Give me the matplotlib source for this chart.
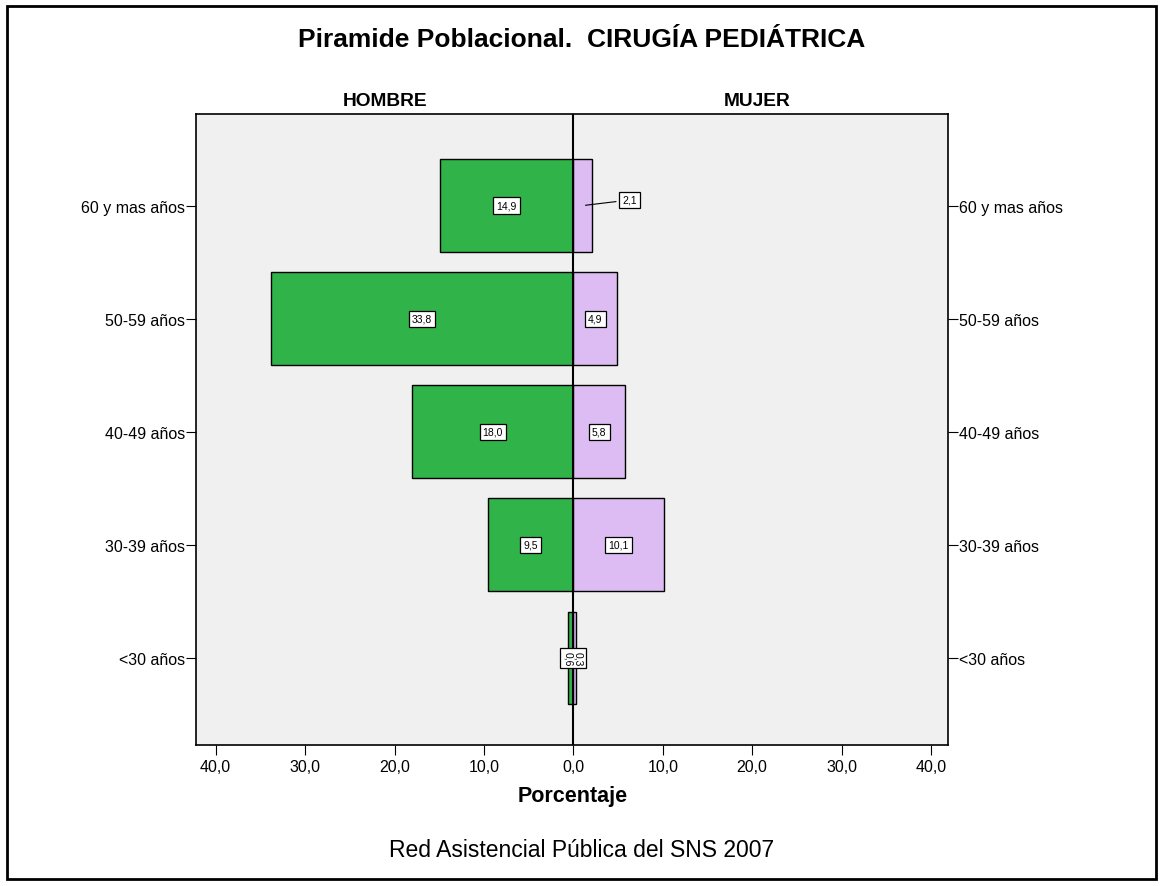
import numpy as np
import matplotlib.pyplot as plt
from matplotlib.patches import Rectangle

plt.rcParams['font.family'] = ['Liberation Sans', 'DejaVu Sans']

# ---- data: percent of each age group by sex ----
GROUPS = ["<30 años", "30-39 años", "40-49 años", "50-59 años", "60 y mas años"]
HOMBRE = [0.6, 9.5, 18.0, 33.8, 14.9]
MUJER = [0.3, 10.1, 5.8, 4.9, 2.1]
XTICKS = [-40, -30, -20, -10, 0, 10, 20, 30, 40]

GREEN = "#30b348"
LILAC = "#dcbcf2"
BG = "#f0f0f0"


def fmt(v):
    return f"{abs(v):.1f}".replace(".", ",")


fig = plt.figure(figsize=(11.63, 8.87), dpi=100)
fig.patches.append(Rectangle((7 / 1163, 1 - 880 / 887), 1149 / 1163, 873 / 887,
                             transform=fig.transFigure, fill=False,
                             edgecolor="black", linewidth=2))

ax = fig.add_axes([196 / 1163, 1 - 746 / 887, 752 / 1163, 631 / 887])
ax.set_facecolor(BG)
y = np.arange(len(GROUPS))
h = 0.82
ax.barh(y, [-v for v in HOMBRE], height=h, color=GREEN, edgecolor="black", linewidth=1)
ax.barh(y, MUJER, height=h, color=LILAC, edgecolor="black", linewidth=1)
ax.axvline(0, color="black", linewidth=1.5)

box = dict(boxstyle="square,pad=0.3", facecolor="white", edgecolor="black", linewidth=0.9)
for i, (m, f) in enumerate(zip(HOMBRE, MUJER)):
    if m < 2:
        # tiny bars get rotated labels stacked on the centre line
        ax.text(0, i, fmt(f) + "\n" + fmt(m), rotation=-90, ha="center", va="center",
                fontsize=7.5, bbox=box, linespacing=1.0)
        continue
    ax.text(-m / 2, i, fmt(m), ha="center", va="center", fontsize=7.5, bbox=box)
    if f < 3:
        ax.annotate(fmt(f), xy=(f / 2, i), xytext=(6.3, i + 0.05), ha="center", va="center",
                    fontsize=7.5, bbox=box,
                    arrowprops=dict(arrowstyle="-", color="black", linewidth=0.8))
    else:
        ax.text(f / 2, i, fmt(f), ha="center", va="center", fontsize=7.5, bbox=box)

ax.set_xlim(-42.2, 41.9)
ax.set_ylim(-0.77, 4.81)
ax.set_xticks(XTICKS)
ax.set_xticklabels([fmt(v) for v in XTICKS], fontsize=11.5)
ax.set_yticks(y)
ax.set_yticklabels(GROUPS, fontsize=11.5)
ax.tick_params(axis="y", which="both", left=True, right=True, labelleft=True,
               labelright=True, length=7, pad=1)
ax.tick_params(axis="x", length=7, pad=3)
for s in ax.spines.values():
    s.set_linewidth(1.2)

fig.text(573 / 1163, 1 - 797 / 887, "Porcentaje", ha="center", va="center",
         fontsize=15.5, fontweight="bold")
fig.text(582 / 1163, 1 - 40 / 887, "Piramide Poblacional.  CIRUGÍA PEDIÁTRICA",
         ha="center", va="center", fontsize=19, fontweight="bold")
fig.text(385 / 1163, 1 - 102 / 887, "HOMBRE", ha="center", va="center",
         fontsize=13.8, fontweight="bold")
fig.text(757 / 1163, 1 - 102 / 887, "MUJER", ha="center", va="center",
         fontsize=13.8, fontweight="bold")
fig.text(582 / 1163, 1 - 851 / 887, "Red Asistencial Pública del SNS 2007",
         ha="center", va="center", fontsize=16.5)

fig.savefig("out.png", dpi=100)
